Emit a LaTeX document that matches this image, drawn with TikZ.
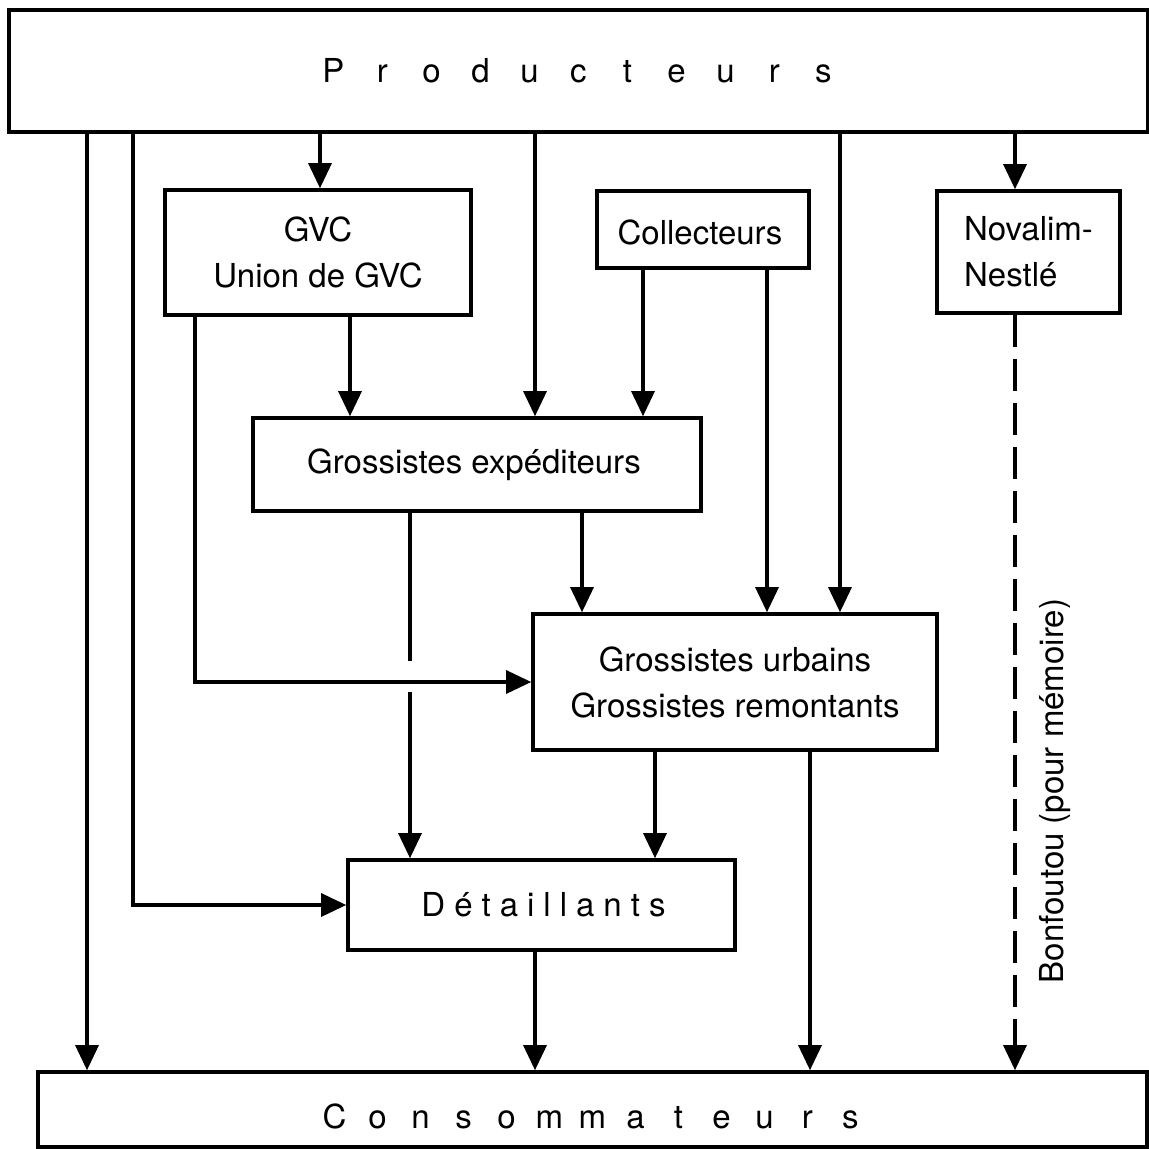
\documentclass[tikz,border=0pt]{standalone}
\usepackage{fontspec}
\setmainfont{TeX Gyre Heros}
\usetikzlibrary{arrows.meta}
\makeatletter
\newcommand\fixsp[2]{\@tfor\fs@c:=#2\do{\makebox[#1]{\fs@c}}}
\newcommand\letsp[2]{\@tfor\ls@c:=#2\do{\ls@c\kern#1}\kern-#1}
\makeatother
\begin{document}
\begin{tikzpicture}[x=1pt,y=-1pt,
  box/.style={draw, line width=3.6pt, inner sep=0pt, align=center,
    font=\fontsize{33}{46}\selectfont},
  link/.style={line width=3.1pt},
  flow/.style={link, -{Triangle[width=23pt,length=25pt]}},
  dashflow/.style={flow, dash pattern=on 32pt off 12pt},
  lbl/.style={font=\fontsize{33}{40}\selectfont, inner sep=0pt}
]
\useasboundingbox (0,0) rectangle (1149,1149);
% boxes
\node[box, minimum width=1139pt, minimum height=122pt] (prod) at (578.5,71) {\fixsp{49pt}{Producteurs}};
\node[box, minimum width=306pt, minimum height=125pt] (gvc) at (318,252.5) {GVC\\Union de GVC};
\node[box, minimum width=212pt, minimum height=77pt] (coll) at (703,229.5) {\raisebox{-3pt}[\height][\depth]{\hspace*{-6pt}Collecteurs}};
\node[box, minimum width=183pt, minimum height=122pt, align=left] (nov) at (1028.5,252) {Novalim-\\Nestlé};
\node[box, minimum width=448pt, minimum height=93pt] (gexp) at (477,464.5) {\hspace*{-6pt}Grossistes expéditeurs};
\node[box, minimum width=404pt, minimum height=136pt] (gurb) at (735,682) {Grossistes urbains\\Grossistes remontants};
\node[box, minimum width=387pt, minimum height=90pt] (det) at (541.5,905) {\hspace*{4pt}\letsp{9pt}{Détaillants}};
\node[box, minimum width=1109pt, minimum height=75pt] (cons) at (592.5,1109.5) {\raisebox{-7pt}[\height][\depth]{\fixsp{43pt}{Consommateurs}}};
\node[lbl, rotate=90] (bon) at (1055,791) {Bonfoutou (pour mémoire)};
% x positions of connectors
\coordinate (xa) at (87,0);
\coordinate (xb) at (133,0);
\coordinate (xc) at (320,0);
\coordinate (xd) at (535,0);
\coordinate (xe) at (840,0);
\coordinate (xf) at (1015,0);
\coordinate (xg) at (350,0);
\coordinate (xh) at (195,0);
\coordinate (xi) at (643,0);
\coordinate (xj) at (767,0);
\coordinate (xk) at (410,0);
\coordinate (xl) at (582,0);
\coordinate (xm) at (655,0);
\coordinate (xn) at (810,0);
\coordinate (gapT) at (410,661);
\coordinate (gapB) at (410,692);
% from producteurs
\draw[flow] (xa |- prod.south) -- (xa |- cons.north);
\draw[flow] (xb |- prod.south) |- (det.west);
\draw[flow] (xc |- prod.south) -- (xc |- gvc.north);
\draw[flow] (xd |- prod.south) -- (xd |- gexp.north);
\draw[flow] (xe |- prod.south) -- (xe |- gurb.north);
\draw[flow] (xf |- prod.south) -- (xf |- nov.north);
% from GVC
\draw[flow] (xg |- gvc.south) -- (xg |- gexp.north);
\draw[flow] (xh |- gvc.south) |- (gurb.west);
% from collecteurs
\draw[flow] (xi |- coll.south) -- (xi |- gexp.north);
\draw[flow] (xj |- coll.south) -- (xj |- gurb.north);
% from grossistes expediteurs
\draw[link] (xk |- gexp.south) -- (gapT);
\draw[flow] (gapB) -- (xk |- det.north);
\draw[flow] (xl |- gexp.south) -- (xl |- gurb.north);
% from grossistes urbains
\draw[flow] (xm |- gurb.south) -- (xm |- det.north);
\draw[flow] (xn |- gurb.south) -- (xn |- cons.north);
% from detaillants
\draw[flow] (xd |- det.south) -- (xd |- cons.north);
% Novalim dashed
\draw[dashflow] (xf |- nov.south) -- (xf |- cons.north);
\end{tikzpicture}
\end{document}
